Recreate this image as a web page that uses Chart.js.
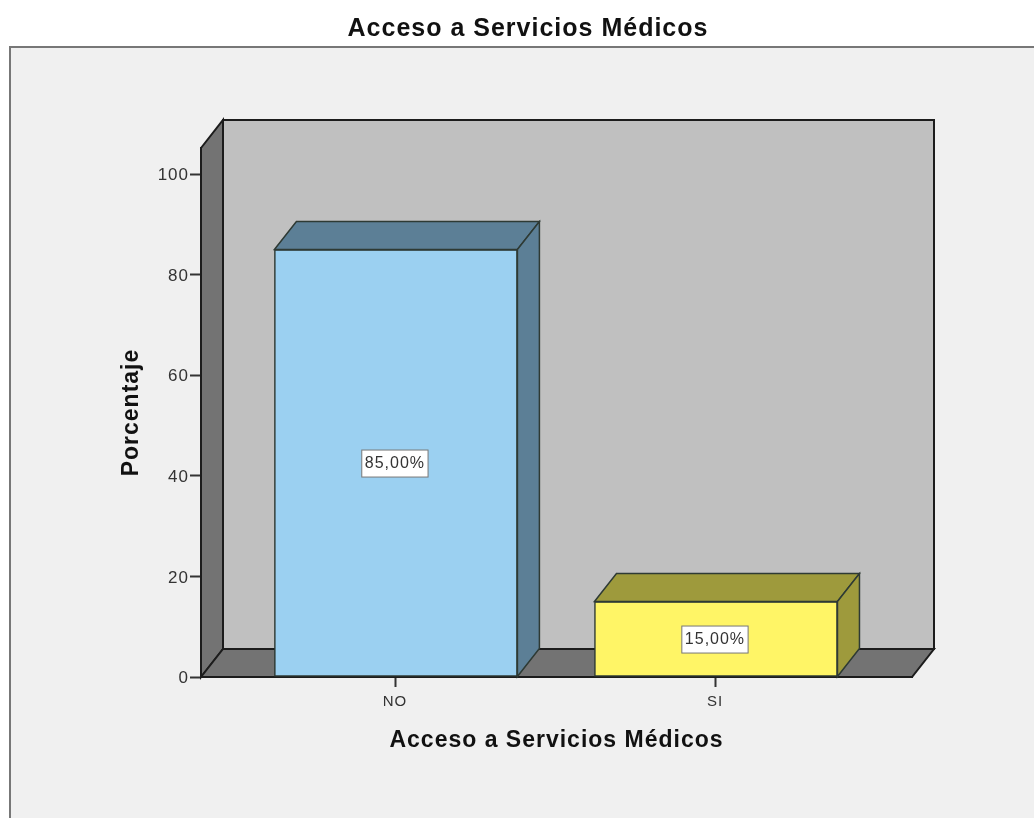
<!DOCTYPE html>
<html><head><meta charset="utf-8">
<style>html,body{margin:0;padding:0;background:#fff;overflow:hidden}canvas{display:block}</style>
<script src="https://cdn.jsdelivr.net/npm/chart.js@4"></script>
</head><body>
<div style="width:1034px;height:818px"><canvas id="c" width="1034" height="818"></canvas></div>
<script>
const categories = ['NO', 'SI'];
const positions = [0, 1];
const percentages = [85, 15];
const valueLabels = ['85,00%', '15,00%'];
const frontColors = ['#9bd0f1', '#fff566'];
const darkColors = ['#5c7f96', '#9e9a3c'];
const titleText = 'Acceso a Servicios Médicos';
const yTitleText = 'Porcentaje';
const DX = 22, DY = -28;
const FONT = '"Liberation Sans", Arial, sans-serif';

function poly(ctx, pts, fill, stroke, w) {
  ctx.beginPath();
  pts.forEach((p, i) => i ? ctx.lineTo(p[0], p[1]) : ctx.moveTo(p[0], p[1]));
  ctx.closePath();
  ctx.fillStyle = fill; ctx.fill();
  ctx.lineWidth = w; ctx.strokeStyle = stroke; ctx.lineJoin = 'miter'; ctx.stroke();
}
const scene = {
  id: 'scene',
  beforeUpdate(chart) { chart.ctx.letterSpacing = '1px'; },
  beforeDraw(chart) {
    const ctx = chart.ctx, a = chart.chartArea;
    ctx.letterSpacing = '1px';
    ctx.save();
    ctx.fillStyle = '#f0f0f0'; ctx.fillRect(10, 47, 1030, 780);
    ctx.strokeStyle = '#777'; ctx.lineWidth = 2; ctx.strokeRect(10, 47, 1040, 800);
    const L = a.left, R = a.right, T = a.top, B = a.bottom;
    poly(ctx, [[L+DX,T+DY],[R+DX,T+DY],[R+DX,B+DY],[L+DX,B+DY]], '#c0c0c0', '#1c1c1c', 2);
    poly(ctx, [[L,T],[L+DX,T+DY],[L+DX,B+DY],[L,B]], '#737373', '#1c1c1c', 2);
    poly(ctx, [[L,B],[L+DX,B+DY],[R+DX,B+DY],[R,B]], '#737373', '#1c1c1c', 2);
    ctx.restore();
  },
  afterDatasetsDraw(chart) {
    const ctx = chart.ctx;
    ctx.save();
    chart.getDatasetMeta(0).data.forEach((bar, i) => {
      const l = bar.x - bar.width / 2, r = bar.x + bar.width / 2, t = bar.y, b = bar.base;
      const edge = '#2e3a34';
      poly(ctx, [[l,t],[l+DX,t+DY],[r+DX,t+DY],[r,t]], darkColors[i], edge, 1.5);
      poly(ctx, [[r,t],[r+DX,t+DY],[r+DX,b+DY],[r,b]], darkColors[i], edge, 1.5);
      ctx.font = '16px ' + FONT;
      const tw = ctx.measureText(valueLabels[i]).width, w = tw + 6, h = 27;
      const cx = bar.x - 1, cy = (t + b) / 2 + 0.5;
      ctx.fillStyle = '#fff'; ctx.fillRect(cx - w/2, cy - h/2, w, h);
      ctx.strokeStyle = '#777'; ctx.lineWidth = 1; ctx.strokeRect(cx - w/2, cy - h/2, w, h);
      ctx.fillStyle = '#333'; ctx.textAlign = 'center'; ctx.textBaseline = 'middle';
      ctx.fillText(valueLabels[i], cx, cy);
    });
    ctx.restore();
  }
};
new Chart(document.getElementById('c'), {
  type: 'bar',
  data: { datasets: [{
    data: positions.map((x, i) => ({ x, y: percentages[i] })),
    backgroundColor: frontColors, borderColor: '#2e3a34', borderWidth: 1.5,
    borderSkipped: false, barThickness: 243
  }]},
  options: {
    responsive: false, animation: false, devicePixelRatio: 1,
    layout: { padding: { left: 144, right: 122, top: 14, bottom: 0 } },
    plugins: {
      legend: { display: false }, tooltip: { enabled: false },
      title: { display: true, text: titleText, color: '#111', align: 'center',
        font: { family: FONT, size: 25, weight: 'bold' }, padding: { top: 0, bottom: 104 } }
    },
    scales: {
      x: { type: 'linear', min: -0.609, max: 1.6125, offset: false,
        afterBuildTicks(s) { s.ticks = positions.map(value => ({ value })); },
        afterFit(s) { s.height = 141; },
        grid: { offset: false, drawOnChartArea: false, drawTicks: true, tickLength: 10, color: '#333', tickWidth: 2 },
        border: { color: '#1c1c1c', width: 2 },
        ticks: { callback: v => categories[v], color: '#333', padding: 6, labelOffset: -1, maxRotation: 0, autoSkip: false,
          font: { family: FONT, size: 15 } },
        title: { display: true, text: titleText, color: '#111',
          font: { family: FONT, size: 23, weight: 'bold' }, padding: { top: 0, bottom: 64 } }
      },
      y: { min: 0, max: 105.2,
        afterFit(s) { s.width = 57; },
        grid: { drawOnChartArea: false, drawTicks: true, tickLength: 11, color: '#333', tickWidth: 2 },
        border: { color: '#1c1c1c', width: 2 },
        ticks: { stepSize: 20, includeBounds: false, color: '#333', padding: 1, labelOffset: 1.5,
          font: { family: FONT, size: 17 } },
        title: { display: true, text: yTitleText, color: '#111',
          font: { family: FONT, size: 23, weight: 'bold' }, padding: { top: -26, bottom: 0 } }
      }
    }
  },
  plugins: [scene]
});
</script>
</body></html>
